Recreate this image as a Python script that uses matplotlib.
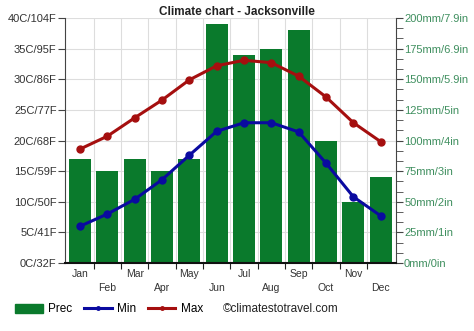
import numpy as np
import matplotlib
matplotlib.use('Agg')
import matplotlib.pyplot as plt
from matplotlib.lines import Line2D
from matplotlib.patches import Patch
import matplotlib.ticker as ticker

months = ['Jan', 'Feb', 'Mar', 'Apr', 'May', 'Jun', 'Jul', 'Aug', 'Sep', 'Oct', 'Nov', 'Dec']
prec = [85, 75, 85, 75, 85, 195, 170, 175, 190, 100, 50, 70]
t_min = [6.0, 8.0, 10.4, 13.6, 17.6, 21.5, 22.9, 22.9, 21.4, 16.3, 10.8, 7.7]
t_max = [18.6, 20.7, 23.7, 26.6, 29.9, 32.2, 33.1, 32.7, 30.5, 27.1, 22.9, 19.8]
left_labels = ['0C/32F', '5C/41F', '10C/50F', '15C/59F', '20C/68F', '25C/77F',
               '30C/86F', '35C/95F', '40C/104F']
right_labels = ['0mm/0in', '25mm/1in', '50mm/2in', '75mm/3in', '100mm/4in',
                '125mm/5in', '150mm/5.9in', '175mm/6.9in', '200mm/7.9in']

plt.rcParams['font.family'] = ['Liberation Sans', 'DejaVu Sans']

fig = plt.figure(figsize=(4.74, 3.31), dpi=100)
ax = fig.add_axes([0.137, 0.2054, 0.698, 0.7402])
ax2 = ax.twinx()

x = np.arange(12)
# precipitation bars on the right axis
ax2.bar(x, prec, width=0.8, color='#0a7a2c', zorder=2)
ax2.set_ylim(0, 200)
ax2.set_yticks(np.arange(0, 201, 25))
ax2.set_yticklabels(right_labels, color='#3f8f5f', fontsize=8)
ax2.yaxis.set_minor_locator(ticker.MultipleLocator(25 / 3))
ax2.tick_params(axis='y', which='major', length=5, color='#444444', pad=1)
ax2.tick_params(axis='y', which='minor', length=5, color='#444444')

# temperature lines on top
ax.set_zorder(ax2.get_zorder() + 1)
ax.patch.set_visible(False)
ax.plot(x, t_max, color='#a50f0f', lw=2.2, marker='o', ms=5, zorder=4)
ax.plot(x, t_min, color='#0a0aa0', lw=2.2, marker='o', ms=5, zorder=4)
ax.set_ylim(0, 40)
ax.set_xlim(-0.55, 11.55)
ax.set_yticks(np.arange(0, 41, 5))
ax.set_yticklabels(left_labels, fontsize=8, color='#333333')
ax.tick_params(axis='y', length=5, color='#444444', pad=1)

# grid
for yv in range(5, 41, 5):
  ax2.axhline(yv * 5, color='#dddddd', lw=0.8, zorder=0)
for xv in np.arange(0.5, 11, 1):
  ax2.axvline(xv, color='#dddddd', lw=0.8, zorder=0)

# month labels in two rows
ax.set_xticks(np.arange(0.5, 11, 1))
ax.set_xticklabels([])
ax.tick_params(axis='x', length=4, color='#222222')
for i, m in enumerate(months):
  off = -0.025 if i % 2 == 0 else -0.083
  ax.text(i, off, m, transform=ax.get_xaxis_transform(), ha='center', va='top',
          fontsize=7.5, color='#333333')

for a in (ax, ax2):
  a.spines['top'].set_visible(False)
ax.spines['left'].set_color('#444444')
ax.spines['bottom'].set_color('#111111')
ax.spines['bottom'].set_linewidth(1.5)
ax.spines['right'].set_visible(False)
ax2.spines['left'].set_visible(False)
ax2.spines['bottom'].set_visible(False)
ax2.spines['right'].set_color('#444444')

fig.text(0.5, 0.963, 'Climate chart - Jacksonville', ha='center', va='center',
         fontsize=8.5, fontweight='bold', color='#222222')

handles = [Patch(color='#0a7a2c'),
           Line2D([], [], color='#0a0aa0', lw=2.2, marker='o', ms=2.5),
           Line2D([], [], color='#a50f0f', lw=2.2, marker='o', ms=2.5)]
fig.legend(handles, ['Prec', 'Min', 'Max'], loc='center left', bbox_to_anchor=(0.01, 0.065),
           ncol=3, frameon=False, fontsize=8.5, handlelength=2.3, handleheight=0.9,
           columnspacing=1.0, handletextpad=0.5)
fig.text(0.47, 0.065, '\u00a9climatestotravel.com', ha='left', va='center',
         fontsize=8.5, color='#222222')

fig.savefig('out.png', dpi=100)
